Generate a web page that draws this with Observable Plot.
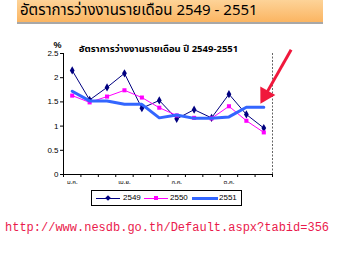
<!DOCTYPE html>
<html>
<head>
<meta charset="utf-8">
<script src="https://cdn.jsdelivr.net/npm/d3@7"></script>
<script src="https://cdn.jsdelivr.net/npm/@observablehq/plot@0.6"></script>
<style>
  html, body { margin: 0; padding: 0; background: #fff; }
  #page { position: relative; width: 340px; height: 255px; overflow: hidden; background: #fff; }
  #banner {
    position: absolute; left: 17px; top: 0; width: 303px; height: 22px;
    background: linear-gradient(#fdd398, #fbb562);
    border-bottom: 2px solid #a8a8a8;
    font-family: Tahoma, "Noto Sans Thai", "Noto Sans", sans-serif;
    font-size: 15px; line-height: 22px; color: #000; padding-left: 3px; box-sizing: content-box;
  }
  #chart { position: absolute; left: 0; top: 26px; }
  #legend {
    position: absolute; left: 91px; top: 190px; width: 149px; height: 14px;
    border: 1px solid #000; background: #fff;
    font-family: "Liberation Sans", Arial, sans-serif; font-size: 8px;
  }
  #legend .ln { position: absolute; top: 7px; }
  #legend .mk { position: absolute; }
  #legend .lb { position: absolute; top: 2px; line-height: 10px; }
  #source {
    position: absolute; left: 5px; top: 221px;
    font-family: "Liberation Mono", "Courier New", monospace; font-size: 12px;
    color: #ea1a4c; white-space: nowrap;
  }
</style>
</head>
<body>
<div id="page">
  <div id="banner">อัตราการว่างงานรายเดือน 2549 - 2551</div>
  <div id="chart"></div>
  <div id="legend"></div>
  <div id="source">http://www.nesdb.go.th/Default.aspx?tabid=356</div>
</div>
<script>
// Monthly unemployment rate (%), Thai years 2549–2551
const months = [1, 2, 3, 4, 5, 6, 7, 8, 9, 10, 11, 12];
const monthLabelMonths = [1, 4, 7, 10];
const monthLabelText = ["ม.ค.", "เม.ย.", "ก.ค.", "ต.ค."];
const yTicks = [0, 0.5, 1, 1.5, 2, 2.5];
const yTickLabels = ["0", "0.5", "1", "1.5", "2", "2.5"];
const seriesNames = ["2549", "2550", "2551"];
const rate2549 = [2.15, 1.54, 1.80, 2.09, 1.37, 1.53, 1.15, 1.34, 1.17, 1.66, 1.24, 0.96];
const rate2550 = [1.63, 1.49, 1.61, 1.74, 1.59, 1.38, 1.22, 1.17, 1.16, 1.41, 1.11, 0.87];
const rate2551 = [1.72, 1.52, 1.52, 1.45, 1.45, 1.17, 1.23, 1.16, 1.16, 1.19, 1.39, 1.39];
const chartTitle = "อัตราการว่างงานรายเดือน ปี 2549-2551";

// Arrow annotation pointing at the latest 2551 value
const arrowStart = {x: 13.57, y: 2.576};
const arrowHead = {x: 12.09, y: 1.64};

const colors = {"2549": "#000080", "2550": "#ff00ff", "2551": "#3366ff"};
const table = (vals, name) => months.map((m, i) => ({month: m, rate: vals[i], series: name}));
const d49 = table(rate2549, "2549");
const d50 = table(rate2550, "2550");
const d51 = table(rate2551, "2551");

const tickEdges = d3.range(0.5, 13, 1);
const thaiFont = "Tahoma, 'Noto Sans Thai', 'Liberation Sans', sans-serif";

const chart = Plot.plot({
  width: 340,
  height: 184,
  marginLeft: 63,
  marginRight: 68,
  marginTop: 27,
  marginBottom: 36,
  x: {type: "linear", domain: [0.5, 12.5]},
  y: {domain: [0, 2.5]},
  style: {fontFamily: "'Liberation Sans', Arial, sans-serif", fontSize: "8px", background: "transparent", overflow: "visible"},
  marks: [
    Plot.axisY({ticks: yTicks, tickSize: 3, tickPadding: 2, label: null,
      tickFormat: d => yTickLabels[yTicks.indexOf(d)], fontSize: 8}),
    Plot.axisX({ticks: tickEdges, tickSize: 3, tickFormat: () => "", label: null}),
    Plot.axisX({ticks: monthLabelMonths, tickSize: 0, tickPadding: 5, label: null,
      tickFormat: d => monthLabelText[monthLabelMonths.indexOf(d)], fontSize: 6, fontFamily: thaiFont}),
    Plot.ruleX([12.5], {y1: 0, y2: 2.5, stroke: "#666", strokeDasharray: "2,1.5"}),
    Plot.ruleX([0.5], {y1: 0, y2: 2.5, stroke: "#000"}),
    Plot.ruleY([0], {stroke: "#000"}),
    Plot.line(d49, {x: "month", y: "rate", stroke: colors["2549"], strokeWidth: 1}),
    Plot.dot(d49, {x: "month", y: "rate", symbol: "diamond", r: 2.5, fill: colors["2549"]}),
    Plot.line(d50, {x: "month", y: "rate", stroke: colors["2550"], strokeWidth: 1}),
    Plot.dot(d50, {x: "month", y: "rate", symbol: "square", r: 2.3, fill: colors["2550"]}),
    Plot.line(d51, {x: "month", y: "rate", stroke: colors["2551"], strokeWidth: 3}),
    Plot.text(["%"], {frameAnchor: "top-left", text: d => d, dx: -10, dy: -12, fontSize: 9, fontWeight: "bold"}),
    Plot.text([chartTitle], {frameAnchor: "top", text: d => d, dx: -9.5, dy: -8, fontSize: 9.5,
      fontWeight: "bold", fontFamily: thaiFont}),
    Plot.link([arrowStart], {x1: "x", y1: "y", x2: () => arrowHead.x, y2: () => arrowHead.y,
      stroke: "#f0183c", strokeWidth: 3}),
    Plot.dot([arrowHead], {x: "x", y: "y", symbol: "triangle", r: 6.4, rotate: 209.6, fill: "#f0183c"})
  ]
});
document.getElementById("chart").appendChild(chart);

// Legend: line + marker swatch for each year
const legend = document.getElementById("legend");
const legendLayout = [
  {x: 4, w: 24, text: 31, marker: "diamond", width: 1},
  {x: 52, w: 24, text: 78, marker: "square", width: 1},
  {x: 100, w: 26, text: 127, marker: null, width: 3}
];
seriesNames.forEach((name, i) => {
  const L = legendLayout[i];
  const ln = document.createElement("div");
  ln.className = "ln";
  ln.style.left = L.x + "px";
  ln.style.width = L.w + "px";
  ln.style.borderTop = `${L.width}px solid ${colors[name]}`;
  ln.style.top = (7 - Math.floor(L.width / 2)) + "px";
  legend.appendChild(ln);
  if (L.marker) {
    const mk = document.createElement("div");
    mk.className = "mk";
    mk.style.width = "4px";
    mk.style.height = "4px";
    mk.style.background = colors[name];
    mk.style.left = (L.x + L.w / 2 - 2) + "px";
    mk.style.top = "5px";
    if (L.marker === "diamond") mk.style.transform = "rotate(45deg)";
    legend.appendChild(mk);
  }
  const lb = document.createElement("div");
  lb.className = "lb";
  lb.style.left = L.text + "px";
  lb.textContent = name;
  legend.appendChild(lb);
});
</script>
</body>
</html>
